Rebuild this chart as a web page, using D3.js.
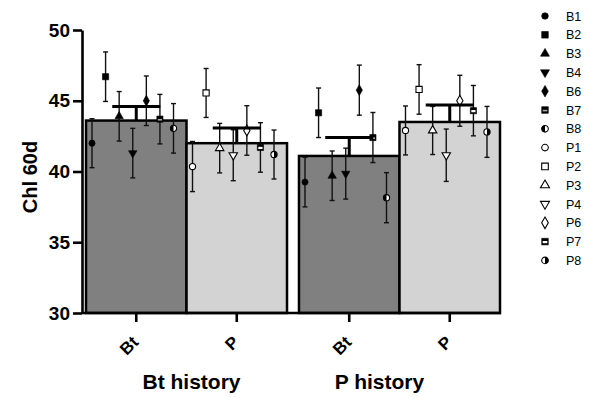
<!DOCTYPE html>
<html><head><meta charset="utf-8">
<script src="https://cdn.jsdelivr.net/npm/d3@7"></script>
<style>
body{margin:0;background:#fff;}
svg{display:block;font-family:"Liberation Sans",Arial,Helvetica,sans-serif;}
</style>
</head><body>
<svg id="chart" width="590" height="398"></svg>
<script>
// ---------------- DATA ----------------
const groups = ["Bt history", "P history"];
const treatments = ["Bt", "P"];
const yTicks = [30, 35, 40, 45, 50];
const bLines = ["B1", "B2", "B3", "B4", "B6", "B7", "B8"];
const pLines = ["P1", "P2", "P3", "P4", "P6", "P7", "P8"];
const legendItems = ["B1","B2","B3","B4","B6","B7","B8","P1","P2","P3","P4","P6","P7","P8"];

// bar means and SE (order: Bt history/Bt, Bt history/P, P history/Bt, P history/P)
const barMeans = [43.6, 42.0, 41.1, 43.5];
const barSE = [1.0, 1.07, 1.3, 1.2];

// per-line means and errors
const btHistBtVals = [42.0, 46.7, 43.9, 41.3, 45.0, 43.7, 43.05];
const btHistBtErr  = [1.73, 1.75, 1.75, 1.75, 1.75, 1.75, 1.75];
const btHistPVals  = [40.35, 45.55, 41.65, 41.15, 42.9, 41.7, 41.2];
const btHistPErr   = [1.77, 1.73, 1.75, 1.8, 1.75, 1.75, 1.73];
const pHistBtVals  = [39.25, 44.15, 39.7, 39.85, 45.75, 42.4, 38.15];
const pHistBtErr   = [1.75, 1.75, 1.75, 1.8, 1.77, 1.77, 1.77];
const pHistPVals   = [42.9, 45.8, 42.9, 41.15, 45.0, 44.3, 42.8];
const pHistPErr    = [1.73, 1.75, 1.7, 1.85, 1.8, 1.78, 1.8];

// ---------------- BUILD TABLE ----------------
const lineVals = [btHistBtVals, btHistPVals, pHistBtVals, pHistPVals];
const lineErrs = [btHistBtErr, btHistPErr, pHistBtErr, pHistPErr];
const bars = [];
groups.forEach((g, gi) => treatments.forEach((t, ti) => {
  const k = gi * 2 + ti;
  const names = t === "Bt" ? bLines : pLines;
  bars.push({
    group: g, treatment: t, mean: barMeans[k], se: barSE[k],
    points: names.map((n, i) => ({name: n, value: lineVals[k][i], err: lineErrs[k][i]}))
  });
}));

// ---------------- STYLES ----------------
const symbolStyle = {
  B1: {shape: "circle", fill: "solid"},
  B2: {shape: "square", fill: "solid"},
  B3: {shape: "triangle", fill: "solid"},
  B4: {shape: "triangleDown", fill: "solid"},
  B6: {shape: "diamond", fill: "solid"},
  B7: {shape: "square", fill: "stripeGray"},
  B8: {shape: "circle", fill: "halfLeft"},
  P1: {shape: "circle", fill: "open"},
  P2: {shape: "square", fill: "open"},
  P3: {shape: "triangle", fill: "open"},
  P4: {shape: "triangleDown", fill: "open"},
  P6: {shape: "diamond", fill: "open"},
  P7: {shape: "square", fill: "stripeWhite"},
  P8: {shape: "circle", fill: "halfRight"}
};
const barFill = {Bt: "#808080", P: "#d3d3d3"};

const svg = d3.select("#chart");
const plotLeft = 82, plotRight = 500, plotTop = 30, plotBottom = 313;

const y = d3.scaleLinear().domain([30, 50]).range([plotBottom, plotTop]);
const x0 = d3.scaleBand().domain(groups).range([86, plotRight]).paddingInner(0.0562).paddingOuter(0);
const x1 = d3.scaleBand().domain(treatments).range([0, x0.bandwidth()]).padding(0);

function drawSymbol(g, name, r) {
  const st = symbolStyle[name];
  const sw = 1.1;
  const area = st.shape === "circle" ? Math.PI * r * r :
               st.shape === "square" ? (2 * r) * (2 * r) :
               st.shape === "diamond" ? 2.2 * r * r * 1.6 : 3.2 * r * r;
  const typ = {circle: d3.symbolCircle, square: d3.symbolSquare, triangle: d3.symbolTriangle,
               triangleDown: d3.symbolTriangle, diamond: d3.symbolDiamond}[st.shape];
  const p = d3.symbol().type(typ).size(area)();
  const rot = st.shape === "triangleDown" ? "rotate(180)" : null;
  if (st.fill === "solid") {
    g.append("path").attr("d", p).attr("transform", rot).attr("fill", "#000").attr("stroke", "#000").attr("stroke-width", 0.6);
  } else if (st.fill === "open") {
    g.append("path").attr("d", p).attr("transform", rot).attr("fill", "#fff").attr("stroke", "#000").attr("stroke-width", sw);
  } else if (st.fill === "stripeGray" || st.fill === "stripeWhite") {
    g.append("path").attr("d", p).attr("fill", "#000").attr("stroke", "#000").attr("stroke-width", 0.6);
    const s = Math.sqrt(area) / 2;
    g.append("rect").attr("x", -s + 1).attr("width", 2 * s - 2)
      .attr("y", st.fill === "stripeGray" ? -0.2 : -0.6).attr("height", st.fill === "stripeGray" ? 1.6 : 2.2)
      .attr("fill", st.fill === "stripeGray" ? "#aaa" : "#fff");
  } else if (st.fill === "halfLeft" || st.fill === "halfRight") {
    const rr = Math.sqrt(area / Math.PI);
    g.append("circle").attr("r", rr).attr("fill", "#fff").attr("stroke", "#000").attr("stroke-width", sw);
    const sweep = st.fill === "halfLeft" ? 0 : 1;
    g.append("path").attr("d", `M0,${-rr}A${rr},${rr} 0 0 ${sweep} 0,${rr}Z`).attr("fill", "#000");
  }
}

// ---------------- BARS ----------------
const barG = svg.append("g");
bars.forEach(b => {
  const bx = x0(b.group) + x1(b.treatment);
  const bw = x1.bandwidth();
  b.bx = bx; b.bw = bw;
  barG.append("rect")
    .attr("x", bx).attr("width", bw)
    .attr("y", y(b.mean)).attr("height", y(30) - y(b.mean))
    .attr("fill", barFill[b.treatment])
    .attr("stroke", "#000").attr("stroke-width", 2.5);
});

// ---------------- POINTS ----------------
const ptG = svg.append("g");
bars.forEach(b => {
  const px = d3.scalePoint().domain(b.points.map(d => d.name)).range([b.bx + 6, b.bx + b.bw - 13]);
  b.points.forEach(d => {
    const cx = px(d.name);
    const g = ptG.append("g");
    g.append("line").attr("x1", cx).attr("x2", cx).attr("y1", y(d.value - d.err)).attr("y2", y(d.value + d.err))
      .attr("stroke", "#111").attr("stroke-width", 1.4);
    [d.value - d.err, d.value + d.err].forEach(v => {
      g.append("line").attr("x1", cx - 2.5).attr("x2", cx + 2.5).attr("y1", y(v)).attr("y2", y(v))
        .attr("stroke", "#111").attr("stroke-width", 1.4);
    });
    const sg = g.append("g").attr("transform", `translate(${cx},${y(d.value)})`);
    drawSymbol(sg, d.name, 3.1);
  });
});

// ---------------- MEAN SE BARS ----------------
const seG = svg.append("g");
bars.forEach(b => {
  const cx = b.bx + b.bw / 2;
  seG.append("line").attr("x1", cx).attr("x2", cx).attr("y1", y(b.mean)).attr("y2", y(b.mean + b.se))
    .attr("stroke", "#000").attr("stroke-width", 3);
  seG.append("line").attr("x1", cx - 24).attr("x2", cx + 24).attr("y1", y(b.mean + b.se)).attr("y2", y(b.mean + b.se))
    .attr("stroke", "#000").attr("stroke-width", 3);
});

// ---------------- AXES ----------------
const yAxis = d3.axisLeft(y).tickValues(yTicks).tickSize(9).tickSizeOuter(0).tickPadding(3).tickFormat(d3.format("d"));
const yg = svg.append("g").attr("transform", `translate(${plotLeft},0)`).call(yAxis);
yg.select(".domain").attr("stroke", "#000").attr("stroke-width", 2.6);
yg.selectAll(".tick line").attr("stroke", "#000").attr("stroke-width", 2.6);
yg.selectAll(".tick text").attr("fill", "#000").attr("font-size", 19).attr("font-weight", "bold")
  .attr("font-family", "Liberation Sans, Arial, sans-serif");

// x baseline
svg.append("line").attr("x1", plotLeft).attr("x2", plotRight + 1).attr("y1", plotBottom).attr("y2", plotBottom)
  .attr("stroke", "#000").attr("stroke-width", 2.6);
// x ticks & labels
bars.forEach(b => {
  const cx = b.bx + b.bw / 2;
  svg.append("line").attr("x1", cx).attr("x2", cx).attr("y1", plotBottom).attr("y2", plotBottom + 9)
    .attr("stroke", "#000").attr("stroke-width", 2.6);
  svg.append("text").attr("transform", `translate(${cx - 1},${plotBottom + 26}) rotate(-45)`)
    .attr("text-anchor", "end").attr("dy", "0.35em")
    .attr("font-size", 17).attr("font-weight", "bold").attr("fill", "#000").text(b.treatment);
});
// group labels
const groupShift = [5, -20];
groups.forEach((g, i) => {
  svg.append("text").attr("x", x0(g) + x0.bandwidth() / 2 + groupShift[i]).attr("y", 389)
    .attr("text-anchor", "middle").attr("font-size", 21).attr("font-weight", "bold").attr("fill", "#000").text(g);
});
// y title
svg.append("text").attr("transform", `translate(37,177) rotate(-90)`).attr("text-anchor", "middle")
  .attr("font-size", 20).attr("font-weight", "bold").attr("fill", "#000").text("Chl 60d");

// ---------------- LEGEND ----------------
const lg = svg.append("g");
legendItems.forEach((n, i) => {
  const ly = 16 + i * 18.8;
  const sg = lg.append("g").attr("transform", `translate(545,${ly})`);
  drawSymbol(sg, n, 3.3);
  lg.append("text").attr("x", 566).attr("y", ly).attr("dy", "0.36em").attr("font-size", 12.5).attr("fill", "#000").text(n);
});
</script>
</body></html>
